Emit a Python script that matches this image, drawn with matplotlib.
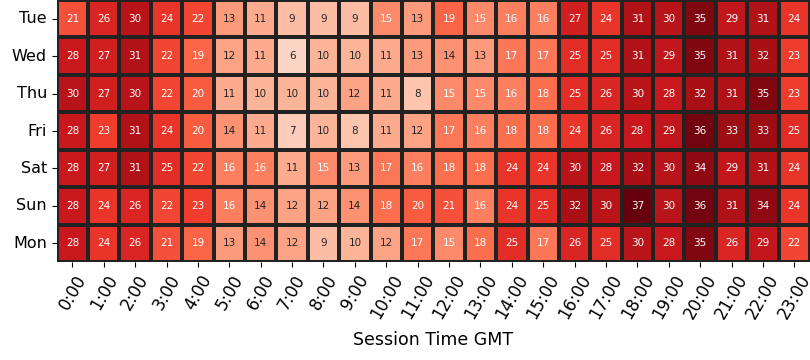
import matplotlib
matplotlib.use("Agg")
import matplotlib.pyplot as plt
import seaborn as sns
import numpy as np
import pandas as pd

days = ["Tue", "Wed", "Thu", "Fri", "Sat", "Sun", "Mon"]
hours = [f"{h}:00" for h in range(24)]

tue = [21, 26, 30, 24, 22, 13, 11, 9, 9, 9, 15, 13, 19, 15, 16, 16, 27, 24, 31, 30, 35, 29, 31, 24]
wed = [28, 27, 31, 22, 19, 12, 11, 6, 10, 10, 11, 13, 14, 13, 17, 17, 25, 25, 31, 29, 35, 31, 32, 23]
thu = [30, 27, 30, 22, 20, 11, 10, 10, 10, 12, 11, 8, 15, 15, 16, 18, 25, 26, 30, 28, 32, 31, 35, 23]
fri = [28, 23, 31, 24, 20, 14, 11, 7, 10, 8, 11, 12, 17, 16, 18, 18, 24, 26, 28, 29, 36, 33, 33, 25]
sat = [28, 27, 31, 25, 22, 16, 16, 11, 15, 13, 17, 16, 18, 18, 24, 24, 30, 28, 32, 30, 34, 29, 31, 24]
sun = [28, 24, 26, 22, 23, 16, 14, 12, 12, 14, 18, 20, 21, 16, 24, 25, 32, 30, 37, 30, 36, 31, 34, 24]
mon = [28, 24, 26, 21, 19, 13, 14, 12, 9, 10, 12, 17, 15, 18, 25, 17, 26, 25, 30, 28, 35, 26, 29, 22]

df = pd.DataFrame([tue, wed, thu, fri, sat, sun, mon], index=days, columns=hours)

fig, ax = plt.subplots(figsize=(8.1, 3.6), dpi=100)
sns.heatmap(df, cmap="Reds", vmin=0, vmax=37, annot=True, fmt="d", cbar=False,
            linewidths=1.5, linecolor="#222222", annot_kws={"fontsize": 7.5}, ax=ax)
ax.set_xlabel("Session Time GMT", fontsize=12.5, labelpad=6)
ax.set_ylabel("")
ax.set_xticklabels(hours, rotation=60, fontsize=12)
ax.set_yticklabels(days, rotation=0, fontsize=11.5)
fig.subplots_adjust(left=0.07, right=1.0, top=1.0, bottom=0.272)
fig.savefig("out.png", dpi=100)
